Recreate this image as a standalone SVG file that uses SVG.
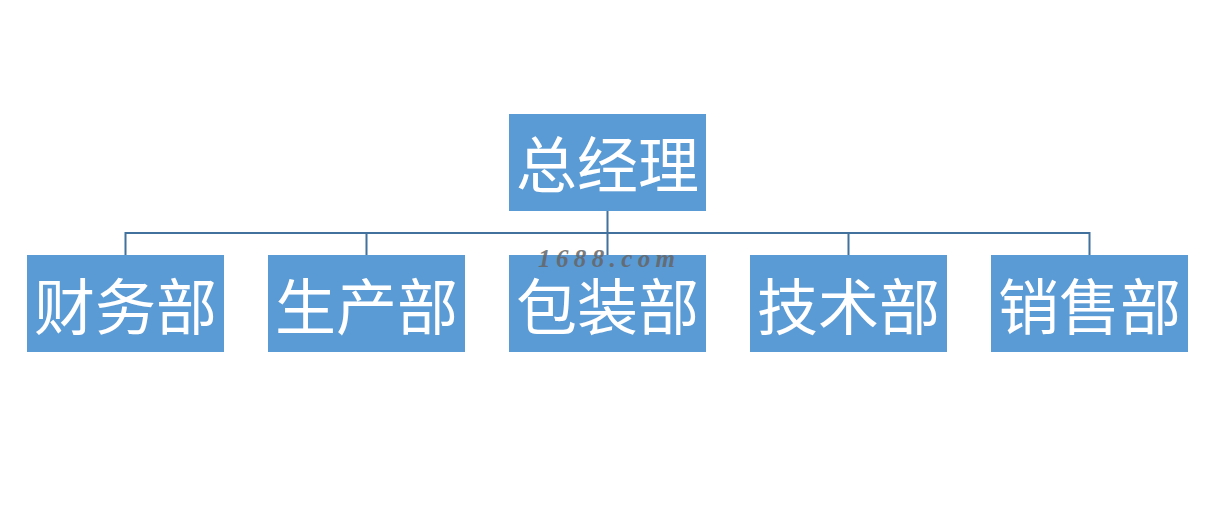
<svg xmlns="http://www.w3.org/2000/svg" width="1215" height="516" viewBox="0 0 1215 516">
<style>
.box{fill:#5B9BD5}
.lbl{font-family:"Noto Sans CJK SC",sans-serif;font-size:61px;fill:#ffffff;text-anchor:middle;dominant-baseline:central}
.conn{stroke:#41719C;stroke-width:2;fill:none}
.wm{font-family:"Liberation Serif",serif;font-style:italic;font-weight:bold;font-size:25px;fill:#666666;opacity:0.85}
</style>
<rect width="1215" height="516" fill="#ffffff"/>
<g id="connectors">
<path class="conn" d="M607.5 211V233M125.5 255V233H1089.5V255M366.5 233V255M607.5 233V255M848.5 233V255"/>
</g>
<g id="n0"><rect class="box" x="509" y="114" width="197" height="97"/><text class="lbl" x="607.5" y="161">总经理</text></g>
<g id="n1"><rect class="box" x="27" y="255" width="197" height="97"/><text class="lbl" x="125.5" y="303">财务部</text></g>
<g id="n2"><rect class="box" x="268" y="255" width="197" height="97"/><text class="lbl" x="366.5" y="303">生产部</text></g>
<g id="n3"><rect class="box" x="509" y="255" width="197" height="97"/><text class="lbl" x="607.5" y="303">包装部</text></g>
<g id="n4"><rect class="box" x="750" y="255" width="197" height="97"/><text class="lbl" x="848.5" y="303">技术部</text></g>
<g id="n5"><rect class="box" x="991" y="255" width="197" height="97"/><text class="lbl" x="1089.5" y="303">销售部</text></g>
<text class="wm" x="538" y="267" textLength="137" lengthAdjust="spacing">1688.com</text>
</svg>
